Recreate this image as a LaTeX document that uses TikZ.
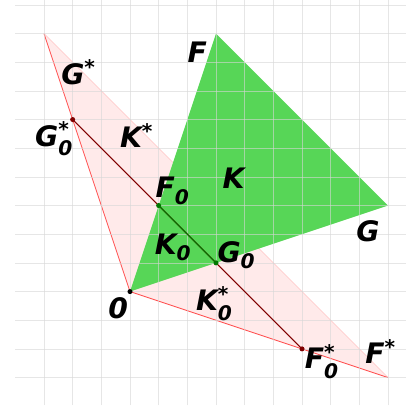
\documentclass[tikz,border=0pt]{standalone}
\usepackage{amsmath}
\usepackage{fontspec}
\setmainfont{DejaVu Sans}
\usepackage{tikz}
\DeclareMathSizes{28}{28}{20}{15}

\definecolor{conegreen}{RGB}{87,214,87}
\definecolor{dualpink}{RGB}{255,234,234}
\definecolor{dualedge}{RGB}{255,80,80}
\definecolor{sectred}{RGB}{128,0,0}
\definecolor{sectgreen}{RGB}{0,120,0}

\newcommand{\stacklbl}[3]{#1$^{\text{#3}}_{\text{#2}}$}

\begin{document}
\begin{tikzpicture}[
    gridline/.style={black!16, opacity=0.6, line width=0.7pt},
    conelabel/.style={font=\fontsize{28}{32}\selectfont\bfseries\itshape, inner sep=0pt},
    pt/.style={circle, fill=#1, inner sep=0pt, minimum size=5pt},
]
  \useasboundingbox (-4.534,-3.97) rectangle (9.627,10.17);

  % points of the two cones
  \coordinate (O) at (0,0);
  \coordinate (F) at (3,9);
  \coordinate (G) at (9,3);
  \coordinate (Fs) at (9,-3);
  \coordinate (Gs) at (-3,9);
  \coordinate (F0) at (1,3);
  \coordinate (G0) at (3,1);
  \coordinate (F0s) at (6,-2);
  \coordinate (G0s) at (-2,6);

  % dual cone K*
  \fill[dualpink] (O) -- (Gs) -- (Fs) -- cycle;
  \draw[dualedge!35, line width=0.6pt] (Gs) -- (Fs);
  \draw[dualedge, line width=0.8pt] (Gs) -- (O) -- (Fs);

  % cone K
  \fill[conegreen] (O) -- (F) -- (G) -- cycle;

  % grid
  \foreach \y in {-3,...,10}
    \draw[gridline] (-4,\y) -- (9.627,\y);
  \foreach \x in {-3,...,9}
    \draw[gridline] (\x,-3.97) -- (\x,10.17);

  % sections K0 and K0*
  \draw[sectred, line width=1pt] (G0s) -- (F0s);
  \draw[sectgreen, line width=1pt] (F0) -- (G0);

  \node[pt=black] (pO) at (O) {};
  \node[pt=sectgreen] (pF0) at (F0) {};
  \node[pt=sectgreen] (pG0) at (G0) {};
  \node[pt=sectred] (pF0s) at (F0s) {};
  \node[pt=sectred] (pG0s) at (G0s) {};

  % labels
  \node[conelabel] (lF) at (2.35,8.34) {F};
  \node[conelabel] (lG) at (8.30,2.09) {G};
  \node[conelabel] (lK) at (3.61,3.95) {K};
  \node[conelabel] (lO) at (-0.41,-0.57) {0};
  \node[conelabel] (lGs) at (-1.80,7.65) {G$^{\text{*}}$};
  \node[conelabel] (lFs) at (8.74,-2.10) {F$^{\text{*}}$};
  \node[conelabel] (lKs) at (0.23,5.45) {K$^{\text{*}}$};
  \node[conelabel] (lF0) at (1.48,3.51) {F$_{\text{0}}$};
  \node[conelabel] (lG0) at (3.71,1.28) {G$_{\text{0}}$};
  \node[conelabel] (lK0) at (1.50,1.55) {K$_{\text{0}}$};
  \node[conelabel] (lG0s) at (-2.65,5.32) {\stacklbl{G}{0}{*}};
  \node[conelabel] (lK0s) at (2.94,-0.41) {\stacklbl{K}{0}{*}};
  \node[conelabel] (lF0s) at (6.69,-2.45) {\stacklbl{F}{0}{*}};
\end{tikzpicture}
\end{document}
